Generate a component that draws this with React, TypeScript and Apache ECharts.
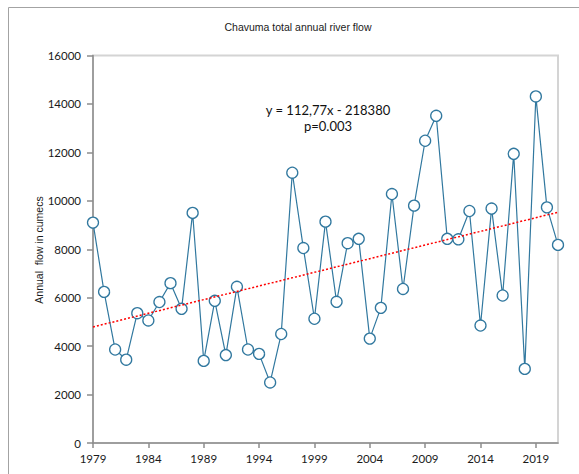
import React, { useEffect, useRef } from "react";
import * as echarts from "echarts";

const years: number[] = [
  1979, 1980, 1981, 1982, 1983, 1984, 1985, 1986, 1987, 1988,
  1989, 1990, 1991, 1992, 1993, 1994, 1995, 1996, 1997, 1998,
  1999, 2000, 2001, 2002, 2003, 2004, 2005, 2006, 2007, 2008,
  2009, 2010, 2011, 2012, 2013, 2014, 2015, 2016, 2017, 2018,
  2019, 2020, 2021,
];

const annualFlow: number[] = [
  9100, 6240, 3860, 3440, 5360, 5060, 5820, 6600, 5540, 9500,
  3390, 5870, 3630, 6450, 3860, 3680, 2500, 4500, 11160, 8050,
  5130, 9140, 5830, 8250, 8430, 4310, 5580, 10280, 6360, 9800,
  12480, 13510, 8430, 8410, 9580, 4850, 9680, 6090, 11940, 3060,
  14310, 9730, 8180,
];

const xTickYears: number[] = [1979, 1984, 1989, 1994, 1999, 2004, 2009, 2014, 2019];
const trendSlope = 112.77;
const trendIntercept = -218380;
const trendYears: number[] = [1979, 2021];
const equationText = "y = 112,77x - 218380";
const pText = "p=0.003";
const yAxisTitle = "Annual  flow in cumecs";

export default function App() {
  const ref = useRef<HTMLDivElement>(null);
  useEffect(() => {
    if (!ref.current) return;
    const chart = echarts.init(ref.current, null, { renderer: "svg" });
    const flowData = years.map((y, i) => [y, annualFlow[i]]);
    const trendData = trendYears.map((y) => [y, trendSlope * y + trendIntercept]);
    chart.setOption({
      animation: false,
      backgroundColor: "#ffffff",
      grid: {
        left: 93,
        top: 55.5,
        right: 21,
        bottom: 31,
        show: true,
        borderColor: "#d4d4d4",
        borderWidth: 2,
        backgroundColor: "transparent",
      },
      xAxis: {
        type: "value",
        min: 1979,
        max: 2021,
        splitLine: { show: false },
        axisLine: { show: true, onZero: false, lineStyle: { color: "#8c8c8c", width: 1.5 } },
        axisTick: {
          show: true,
          customValues: xTickYears,
          length: 5,
          lineStyle: { color: "#8c8c8c", width: 1.5 },
        },
        axisLabel: {
          customValues: xTickYears,
          margin: 9,
          color: "#1a1a1a",
          fontFamily: "Lato",
          fontSize: 11.5,
          formatter: (v: number) => String(v),
        },
      },
      yAxis: {
        type: "value",
        min: 0,
        max: 16000,
        interval: 2000,
        splitLine: { show: false },
        axisLine: { show: true, lineStyle: { color: "#8c8c8c", width: 1.5 } },
        axisTick: { show: true, length: 6, lineStyle: { color: "#8c8c8c", width: 1.5 } },
        axisLabel: {
          margin: 12,
          color: "#1a1a1a",
          fontFamily: "Lato",
          fontSize: 11.5,
          formatter: (v: number) => String(v),
        },
      },
      series: [
        {
          type: "line",
          data: flowData,
          symbol: "circle",
          symbolSize: 11,
          showAllSymbol: true,
          lineStyle: { color: "#31789f", width: 1.2 },
          itemStyle: { color: "#ffffff", borderColor: "#31789f", borderWidth: 1.3 },
          z: 2,
        },
        {
          type: "line",
          data: trendData,
          symbol: "none",
          lineStyle: { color: "#ff0000", width: 1.5, type: [2, 2] },
          z: 3,
          silent: true,
        },
      ],
      graphic: [
        {
          type: "rect",
          shape: { x: 8.5, y: 7.5, width: 700, height: 700 },
          style: { fill: "none", stroke: "#a3a3a3", lineWidth: 1 },
          z: -10,
        },
        {
          type: "text",
          x: 298,
          y: 27,
          style: {
            text: "Chavuma total annual river flow",
            fill: "#1a1a1a",
            font: "10.5px 'Liberation Sans', Arial, sans-serif",
            textAlign: "center",
            textVerticalAlign: "middle",
          },
        },
        {
          type: "text",
          x: 39,
          y: 250,
          rotation: Math.PI / 2,
          style: {
            text: yAxisTitle,
            fill: "#1a1a1a",
            font: "10.5px 'Liberation Sans', Arial, sans-serif",
            textAlign: "center",
            textVerticalAlign: "middle",
          },
        },
        {
          type: "text",
          x: 328,
          y: 110,
          style: {
            text: equationText,
            fill: "#111111",
            font: "13px Lato, sans-serif",
            textAlign: "center",
            textVerticalAlign: "middle",
          },
        },
        {
          type: "text",
          x: 328,
          y: 126,
          style: {
            text: pText,
            fill: "#111111",
            font: "13px Lato, sans-serif",
            textAlign: "center",
            textVerticalAlign: "middle",
          },
        },
      ],
    });
    return () => chart.dispose();
  }, []);
  return (
    <div
      ref={ref}
      style={{ position: "fixed", left: 0, top: 0, width: 579, height: 474 }}
    />
  );
}
